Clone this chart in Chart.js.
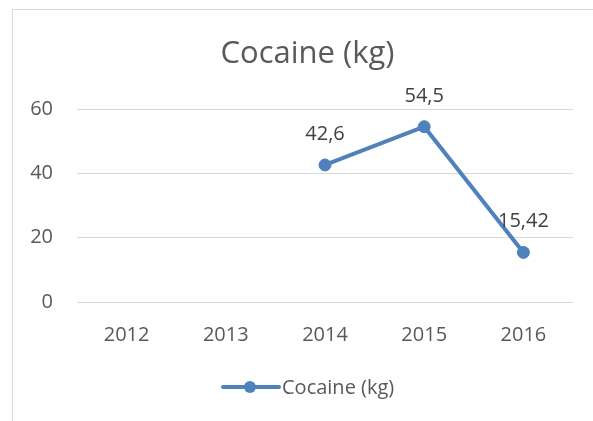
<!DOCTYPE html>
<html>
<head>
<meta charset="utf-8">
<script src="https://cdn.jsdelivr.net/npm/chart.js@4.4.0/dist/chart.umd.min.js"></script>
<style>
  html, body { margin: 0; padding: 0; background: #ffffff; overflow: hidden; width: 593px; height: 421px; }
  #frame { position: absolute; left: 12px; top: 9px; width: 600px; height: 500px; border: 1px solid #d9d9d9; box-sizing: border-box; }
  #c { position: absolute; left: 0; top: 0; }
</style>
</head>
<body>
<div id="frame"></div>
<canvas id="c" width="593" height="421"></canvas>
<script>
const categories = ["2012", "2013", "2014", "2015", "2016"];
const cocaineKg = [null, null, 42.6, 54.5, 15.42];
const valueLabels = [null, null, "42,6", "54,5", "15,42"];
const seriesName = "Cocaine (kg)";
const chartTitle = "Cocaine (kg)";
const yTickLabels = ["0", "20", "40", "60"];

const BLUE = "#4f81bd";
const FONT = "'Open Sans', sans-serif";

const labelPlugin = {
  id: "valueLabels",
  afterDatasetsDraw(chart) {
    const ctx = chart.ctx;
    const meta = chart.getDatasetMeta(0);
    ctx.save();
    ctx.font = "20px " + FONT;
    ctx.fillStyle = "#404040";
    ctx.textAlign = "center";
    ctx.textBaseline = "alphabetic";
    meta.data.forEach((pt, i) => {
      if (cocaineKg[i] === null) return;
      ctx.fillText(valueLabels[i], pt.x, pt.y - 25);
    });
    ctx.restore();
  }
};

const titleLegendPlugin = {
  id: "titleLegend",
  afterDraw(chart) {
    const ctx = chart.ctx;
    ctx.save();
    // title
    ctx.font = "31px " + FONT;
    ctx.fillStyle = "#595959";
    ctx.textAlign = "center";
    ctx.textBaseline = "alphabetic";
    ctx.fillText(chartTitle, 307.5, 63);
    // legend
    const y = 387;
    ctx.strokeStyle = BLUE;
    ctx.lineWidth = 4;
    ctx.lineCap = "round";
    ctx.beginPath();
    ctx.moveTo(223, y);
    ctx.lineTo(279, y);
    ctx.stroke();
    ctx.fillStyle = BLUE;
    ctx.beginPath();
    ctx.arc(250, y, 6, 0, Math.PI * 2);
    ctx.fill();
    ctx.font = "20px " + FONT;
    ctx.fillStyle = "#595959";
    ctx.textAlign = "left";
    ctx.fillText(seriesName, 282, 394);
    ctx.restore();
  }
};

new Chart(document.getElementById("c"), {
  type: "line",
  data: {
    labels: categories,
    datasets: [{
      label: seriesName,
      data: cocaineKg,
      borderColor: BLUE,
      backgroundColor: BLUE,
      borderWidth: 4,
      pointRadius: 6,
      pointBackgroundColor: BLUE,
      pointBorderColor: BLUE,
      pointBorderWidth: 1,
      spanGaps: false,
      tension: 0
    }]
  },
  options: {
    responsive: false,
    animation: false,
    devicePixelRatio: 1,
    layout: { padding: { left: 10, right: 20, top: 109, bottom: 79 } },
    plugins: {
      legend: { display: false },
      tooltip: { enabled: false },
      title: { display: false }
    },
    scales: {
      x: {
        offset: true,
        grid: { display: false, drawTicks: false },
        border: { display: false },
        ticks: { color: "#595959", font: { family: FONT, size: 20 }, padding: 21, maxRotation: 0 },
        afterFit(scale) { scale.height = 40; }
      },
      y: {
        min: 0,
        max: 60,
        grid: { color: "#d9d9d9", lineWidth: 1, drawTicks: false },
        border: { display: false },
        ticks: {
          stepSize: 20,
          color: "#595959",
          font: { family: FONT, size: 20 },
          padding: 24,
          callback: (v, i) => yTickLabels[i]
        },
        afterFit(scale) { scale.width = 67; }
      }
    }
  },
  plugins: [labelPlugin, titleLegendPlugin]
});
</script>
</body>
</html>
